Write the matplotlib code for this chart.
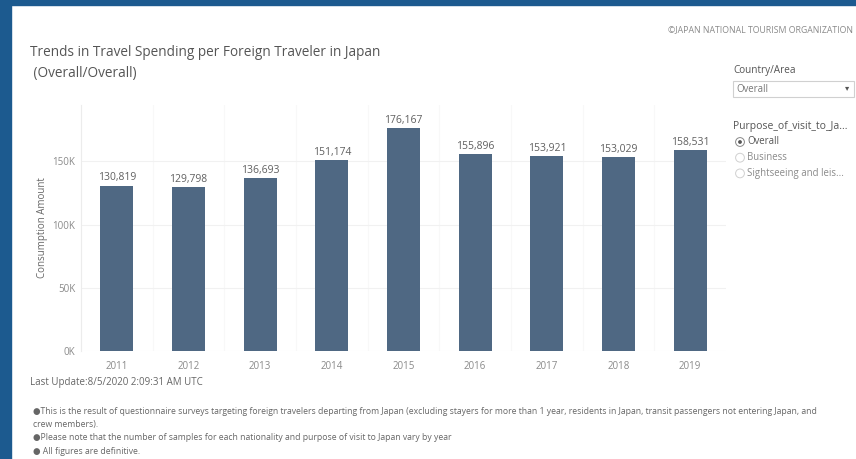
import matplotlib
matplotlib.use("Agg")
import matplotlib.pyplot as plt
from matplotlib.patches import Rectangle, Ellipse
from matplotlib.ticker import FuncFormatter

years = ["2011", "2012", "2013", "2014", "2015", "2016", "2017", "2018", "2019"]
spending = [130819, 129798, 136693, 151174, 176167, 155896, 153921, 153029, 158531]
y_ticks = [0, 50000, 100000, 150000]

title = "Trends in Travel Spending per Foreign Traveler in Japan"
subtitle = " (Overall/Overall)"
notes = [
    "\u25cfThis is the result of questionnaire surveys targeting foreign travelers departing from Japan (excluding stayers for more than 1 year, residents in Japan, transit passengers not entering Japan, and",
    "crew members).",
    "\u25cfPlease note that the number of samples for each nationality and purpose of visit to Japan vary by year",
    "\u25cf All figures are definitive.",
]
radio_options = ["Overall", "Business", "Sightseeing and leis..."]

plt.rcParams['font.family'] = ['Open Sans', 'DejaVu Sans']

W, H = 856, 459
fig = plt.figure(figsize=(W / 100, H / 100), dpi=100)
fig.patch.set_facecolor("white")

def fx(px):
    return px / W

def fy(py):
    return 1 - py / H

# blue frame
blue = "#1c5a8f"
fig.patches.append(Rectangle((0, 0), fx(11), 1, transform=fig.transFigure, color=blue, zorder=0))
fig.patches.append(Rectangle((0, fy(5)), 1, 1 - fy(5), transform=fig.transFigure, color=blue, zorder=0))

ax = fig.add_axes([fx(81), fy(351), fx(726) - fx(81), fy(105) - fy(351)])
x = list(range(len(years)))
ax.bar(x, spending, width=0.46, color="#4f6883", zorder=3)
ax.set_xlim(-0.5, len(years) - 0.5)
ax.set_ylim(0, 194500)
ax.set_yticks(y_ticks)
ax.yaxis.set_major_formatter(FuncFormatter(lambda v, p: f"{int(v/1000)}K"))
ax.set_xticks(x)
ax.set_xticklabels(years)
ax.tick_params(axis="both", length=0, labelsize=7, labelcolor="#8a8a8a")
ax.tick_params(axis="x", pad=7)
ax.tick_params(axis="y", pad=4)
for s in ["top", "right", "bottom"]:
    ax.spines[s].set_visible(False)
ax.spines["left"].set_color("#ececec")
ax.spines["left"].set_linewidth(0.8)
ax.yaxis.grid(True, color="#f1f1f1", linewidth=0.8, zorder=0)
for b in range(1, len(years)):
    ax.axvline(b - 0.5, color="#f8f8f8", linewidth=0.8, zorder=0)
ax.set_ylabel("Consumption Amount", fontsize=7, color="#666666", labelpad=3)

for xi, v in zip(x, spending):
    ax.annotate(f"{v:,}", (xi, v), xytext=(0, 1.5), textcoords="offset points",
                ha="center", va="bottom", fontsize=7.5, color="#606060")

# titles
fig.text(fx(30), fy(52), title, fontsize=9.8, color="#555555", ha="left", va="center")
fig.text(fx(30), fy(73), subtitle, fontsize=9.8, color="#555555", ha="left", va="center")
fig.text(fx(853), fy(30), "\u00a9JAPAN NATIONAL TOURISM ORGANIZATION", fontsize=6.3,
         color="#8a8a8a", ha="right", va="center")

# right panel
fig.text(fx(733), fy(71), "Country/Area", fontsize=7.2, color="#555555", ha="left", va="center")
fig.patches.append(Rectangle((fx(733), fy(97)), fx(854) - fx(733), fy(81) - fy(97),
                             transform=fig.transFigure, facecolor="white",
                             edgecolor="#d0d0d0", linewidth=0.8))
fig.text(fx(736), fy(89), "Overall", fontsize=6.9, color="#777777", ha="left", va="center")
fig.text(fx(847), fy(89), "\u25be", fontsize=6, color="#555555", ha="center", va="center")
fig.text(fx(733), fy(126), "Purpose_of_visit_to_Ja...", fontsize=7.5, color="#555555",
         ha="left", va="center")
r = 4.4
for i, opt in enumerate(radio_options):
    yy = 142 + i * 15.7
    fig.patches.append(Ellipse((fx(740), fy(yy)), 2 * r / W, 2 * r / H, transform=fig.transFigure,
                               facecolor="white", edgecolor="#888888" if i == 0 else "#d0d0d0",
                               linewidth=0.7))
    if i == 0:
        fig.patches.append(Ellipse((fx(740), fy(yy)), 3.8 / W, 3.8 / H, transform=fig.transFigure,
                                   facecolor="#555555", edgecolor="none"))
    fig.text(fx(747), fy(yy), opt, fontsize=6.9, color="#555555" if i == 0 else "#8a8a8a",
             ha="left", va="center")

# footer
fig.text(fx(30), fy(383), "Last Update:8/5/2020 2:09:31 AM UTC", fontsize=7.0,
         color="#666666", ha="left", va="center")
for i, line in enumerate(notes):
    fig.text(fx(33), fy(411 + i * 13.5), line, fontsize=6.2, color="#666666",
             ha="left", va="center")

fig.savefig("out.png", dpi=100, facecolor="white")
